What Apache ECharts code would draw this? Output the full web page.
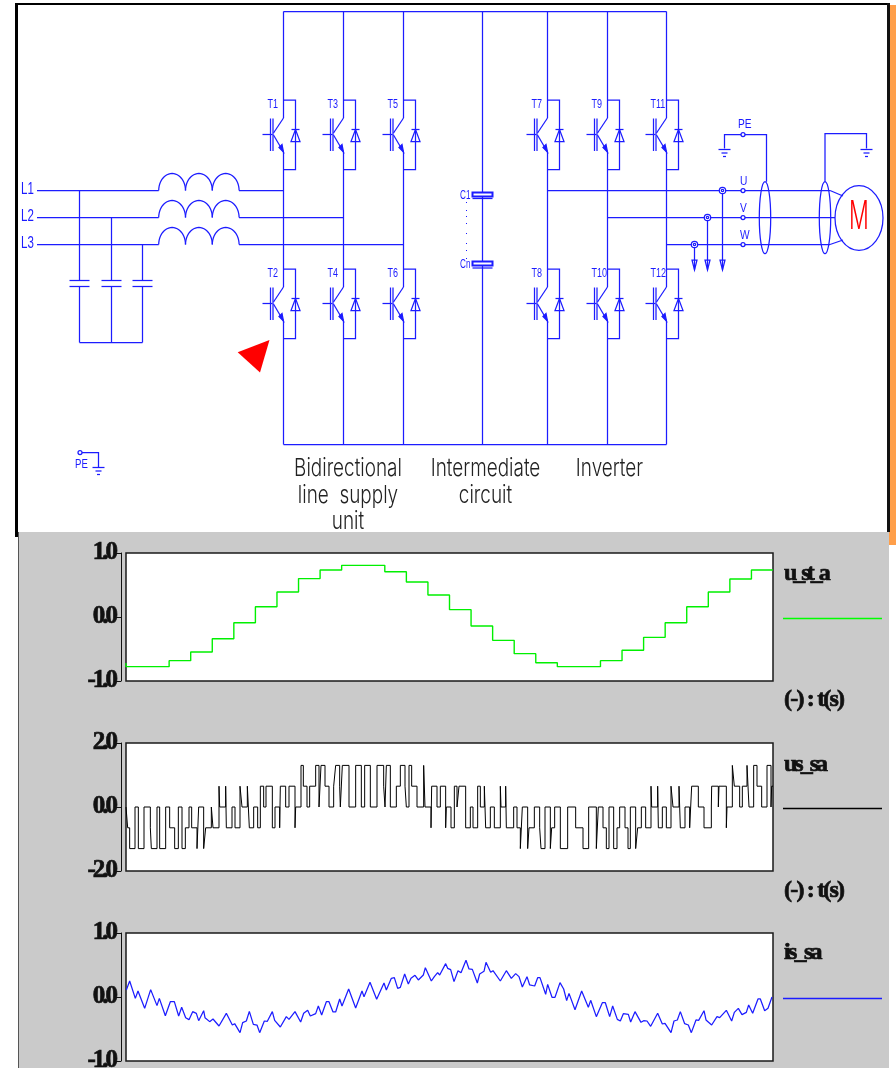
<!DOCTYPE html>
<html>
<head>
<meta charset="utf-8">
<style>html,body{margin:0;padding:0;background:#fff}#c{width:896px;height:1068px}</style>
<script src="https://cdn.jsdelivr.net/npm/echarts@6/dist/echarts.min.js"></script>
</head>
<body>
<div id="c"></div>
<script>
// ---------- chart data ----------
const yTicks1 = ['-1.0', '0.0', '1.0'];
const yTicks2 = ['-2.0', '0.0', '2.0'];
const yTicks3 = ['-1.0', '0.0', '1.0'];
const seriesNames = ['u_st_a', 'us_sa', 'is_sa'];
const xAxisNote = '(-) : t(s)';

const ustTimes = [0, 0, 2, 3, 4, 5, 6, 7, 8, 9, 10, 12, 13, 14, 15, 16, 17, 18, 19, 20, 22, 23, 24, 25, 26, 27, 28, 29, 30];
const ustValues = [-0.72, -0.776, -0.682, -0.547, -0.339, -0.089, 0.161, 0.39, 0.6, 0.734, 0.807, 0.708, 0.547, 0.344, 0.115, -0.141, -0.365, -0.573, -0.714, -0.776, -0.682, -0.52, -0.318, -0.089, 0.161, 0.39, 0.594, 0.734, 0.734];

const ussTimes = [
  0,5,11,27,37,54,73,76,93,101,
  119,131,146,157,168,178,189,197,213,218,
  233,239,256,261,279,281,299,301,318,327,
  342,348,364,370,383,395,403,413,420,439,
  447,461,463,479,489,507,509,525,532,543,
  551,569,579,585,597,609,623,629,641,643,
  649,669,689,706,716,733,753,773,777,781,
  793,811,823,837,841,849,857,873,893,897,
  915,917,933,943,959,961,975,985,993,999,
  1019,1033,1041,1055,1063,1075,1079,1093,1105,1123,
  1125,1139,1141,1163,1173,1183,1189,1205,1209,1225,
  1241,1245,1257,1273,1277,1286,1303,1325,1349,1371,
  1388,1411,1417,1431,1441,1449,1463,1473,1481,1497,
  1506,1513,1529,1535,1546,1559,1575,1577,1595,1597,
  1609,1621,1635,1641,1659,1663,1677,1691,1697,1717,
  1734,1756,1757,1777,1779,1801,1803,1819,1825,1841,
  1849,1863,1869,1883,1893,1907,1923,1935,1937,1941
];
const ussValues = [
  0,-.65,-1.3,0,-1.3,0,-.65,-1.3,0,-1.3,
  0,-.65,-1.3,0,-1.3,-.65,0,-.65,-1.3,0,
  -1.3,-.65,0,-.65,.65,0,.65,-.65,0,-.65,
  .65,0,.65,-.65,0,-.65,.65,0,.65,-.65,
  0,-.65,.65,0,.65,-.65,0,1.3,.65,0,
  .65,1.3,0,1.3,.65,0,.65,1.3,.65,0,
  1.3,0,1.3,0,1.3,0,1.3,.65,0,1.3,
  0,.65,1.3,.65,0,1.3,.65,0,1.3,0,
  -.65,.65,0,.65,-.65,0,-.65,.65,0,.65,
  -.65,0,-.65,.65,0,.65,-.65,0,-.65,.65,
  0,.65,-.65,0,-.65,-1.3,0,-1.3,-.65,0,
  -.65,-1.3,0,-1.3,-.65,0,-1.3,0,-.65,-1.3,
  0,-1.3,0,-.65,-1.3,0,-1.3,-.65,0,-.65,
  -1.3,0,-1.3,-.65,0,-.65,.65,0,.65,-.65,
  0,-.65,.65,0,.65,-.65,0,-.65,.65,0,
  -.65,0,.65,0,.65,-.65,0,1.3,.65,0,
  .65,1.3,0,1.3,.65,0,1.3,0,.65,.65
];

const issTimes = [
  1,11,28,36,56,74,93,100,118,133,145,158,167,179,189,200,211,218,233,237,
  243,251,261,279,301,319,326,342,350,361,370,382,393,401,415,424,439,446,463,481,
  489,507,524,533,545,553,569,577,587,601,609,621,629,641,648,668,689,708,714,732,
  752,774,781,796,805,815,823,836,847,855,867,877,892,898,916,925,935,941,959,965,
  974,984,996,1005,1020,1029,1039,1054,1061,1074,1080,1094,1101,1123,1141,1156,1169,1179,1189,1203,
  1211,1226,1235,1242,1259,1265,1278,1287,1302,1313,1322,1329,1347,1367,1387,1394,1411,1429,1438,1451,
  1460,1474,1483,1492,1507,1514,1527,1545,1553,1563,1574,1595,1609,1617,1635,1644,1654,1663,1676,1687,
  1696,1710,1718,1734,1740,1757,1773,1781,1801,1817,1825,1837,1848,1861,1868,1880,1896,1903,1916,1926,1938
];
const issValues = [
  .109,.25,-.021,.094,-.177,.115,-.135,-.021,-.292,-.073,-.073,-.297,-.161,-.323,-.354,-.229,-.255,-.37,-.214,-.323,
  -.333,-.385,-.344,-.453,-.255,-.438,-.417,-.557,-.401,-.375,-.224,-.427,-.438,-.557,-.375,-.38,-.229,-.365,-.469,-.307,
  -.349,-.229,-.391,-.255,-.208,-.297,-.26,-.141,-.281,-.073,-.073,-.234,-.234,-.031,-.141,.125,-.172,.094,.005,.229,
  -.036,.219,.109,.292,.302,.135,.151,.359,.203,.292,.339,.266,.344,.458,.25,.318,.38,.344,.521,.448,
  .427,.24,.411,.38,.573,.438,.432,.219,.359,.401,.542,.385,.411,.25,.411,.292,.365,.318,.156,.318,
  .188,.172,.302,.302,.042,.198,-.005,-.005,.224,.125,-.057,.057,-.198,.094,-.161,-.052,-.307,-.089,-.089,-.307,
  -.141,-.349,-.375,-.26,-.271,-.391,-.229,-.396,-.37,-.375,-.458,-.255,-.422,-.411,-.557,-.375,-.359,-.229,-.417,-.438,
  -.557,-.359,-.365,-.214,-.359,-.438,-.307,-.323,-.208,-.375,-.24,-.177,-.276,-.24,-.125,-.255,-.031,-.031,-.214,-.177,0
];

// Blocks named in the schematic
const blockLabels = [
  {lines: ['Bidirectional', 'line  supply', 'unit'], cx: 348},
  {lines: ['Intermediate', 'circuit'], cx: 485.5},
  {lines: ['Inverter'], cx: 609.5}
];

// ---------- tight bold serif setting, as in the reference's squeezed type ----------
const spacingFor = t => t === 'u_st_a' ? -4 : t === 'is_sa' ? -2.7 : t === '(-) : t(s)' ? -1.8 : -3;
['fillText', 'strokeText'].forEach(fn => {
  const raw = CanvasRenderingContext2D.prototype[fn];
  CanvasRenderingContext2D.prototype[fn] = function (t, x, y) {
    if (String(this.font).indexOf('Liberation Serif') >= 0) {
      this.letterSpacing = spacingFor(t) + 'px';
      raw.call(this, t, x, y);
      this.letterSpacing = '0px';
    } else {
      raw.call(this, t, x, y);
    }
  };
});

// ---------- drawing helpers for the schematic ----------
const BLUE = '#1c1cff', GREY = '#cacaca', SERIF = '"Liberation Serif", serif', LW = 1.25;
const g = [];
const line = (pts, color, w) => g.push({type: 'polyline', silent: true, shape: {points: pts}, style: {stroke: color || BLUE, lineWidth: w || LW, fill: null}});
const poly = (pts, fill, stroke) => g.push({type: 'polygon', silent: true, shape: {points: pts}, style: {fill: fill || 'none', stroke: stroke || BLUE, lineWidth: LW}});
const rect = (x, y, w, h, fill, z) => g.push({type: 'rect', silent: true, z: z === undefined ? -10 : z, shape: {x, y, width: w, height: h}, style: {fill}});
const ellipse = (cx, cy, rx, ry, fill) => g.push({type: 'ellipse', silent: true, shape: {cx, cy, rx, ry}, style: {fill: fill || 'none', stroke: BLUE, lineWidth: LW}});
const txt = (s, x, y, o) => {
  o = o || {};
  g.push({type: 'text', silent: true, x, y, scaleX: o.sx || 1, scaleY: o.sy || 1, z: o.z || 5,
    style: {text: s, fill: o.color || BLUE, font: o.font || '12px "Liberation Sans"', textAlign: o.align || 'left', textVerticalAlign: 'middle',
      stroke: o.stroke || null, lineWidth: o.stroke ? 0.7 : 0}});
};

// page furniture
rect(15, 3, 875, 2, '#000');
rect(15, 3, 3, 534, '#000');
rect(887, 3, 3, 534, '#111');
rect(890, 5, 6, 540, '#ff9f4a');
rect(888, 532, 8, 13, '#ff9f4a');
rect(18, 532, 871, 536, GREY);
rect(18, 532, 1, 536, '#555');

// rails
const cols = [283.5, 343.5, 403.5, 547.5, 607.5, 666.5];
line([[283.5, 11.5], [666.5, 11.5]]);
line([[283.5, 444.5], [666.5, 444.5]]);
line([[482.5, 11.5], [482.5, 193]]);
line([[482.5, 197], [482.5, 262]]);
line([[482.5, 266], [482.5, 444.5]]);

// IGBT half bridges
const igbt = (cx, y0, name) => {
  line([[cx, y0], [cx + 12, y0], [cx + 12, y0 + 69.5], [cx, y0 + 69.5]]);
  line([[cx - 13, y0 + 18.5], [cx - 13, y0 + 51]]);
  line([[cx - 10.5, y0 + 18.5], [cx - 10.5, y0 + 51]]);
  line([[cx - 21, y0 + 34.5], [cx - 11, y0 + 34.5]]);
  line([[cx - 10, y0 + 33], [cx, y0 + 18]]);
  line([[cx - 10, y0 + 35], [cx, y0 + 52]]);
  poly([[cx, y0 + 52], [cx - 4.5, y0 + 47.5], [cx - 1.5, y0 + 44.5]], BLUE);
  poly([[cx + 12, y0 + 29.5], [cx + 7.5, y0 + 41.5], [cx + 16.5, y0 + 41.5]]);
  line([[cx + 8, y0 + 29.5], [cx + 16, y0 + 29.5]]);
  txt(name, cx - 16, y0 + 5, {sx: 0.75});
};
cols.forEach((cx, i) => {
  line([[cx, 11.5], [cx, 118]]);
  line([[cx, 152], [cx, 287]]);
  line([[cx, 321], [cx, 444.5]]);
  igbt(cx, 100, 'T' + (2 * i + 1));
  igbt(cx, 269, 'T' + (2 * i + 2));
});

// line side
const lineY = [190.5, 217.5, 244.5];
const lineEnd = [283.5, 343.5, 403.5];
const humps = (x0, y) => {
  for (let h = 0; h < 3; h++) {
    const pts = [], rx = 13.4, ry = 17, cx = x0 + rx + 2 * rx * h;
    for (let a = 0; a <= 24; a++) {
      const t = Math.PI * (1 - a / 24);
      pts.push([cx + rx * Math.cos(t), y - ry * Math.sin(t)]);
    }
    line(pts);
  }
};
lineY.forEach((y, i) => {
  txt('L' + (i + 1), 21, y - 1, {font: '16px "Liberation Sans"', sx: 0.72});
  line([[37, y], [158.7, y]]);
  humps(158.7, y);
  line([[239, y], [lineEnd[i], y]]);
});
// line filter
[79.5, 111.5, 142.5].forEach((x, i) => {
  line([[x, lineY[i]], [x, 280]]);
  line([[x - 10, 280.5], [x + 10, 280.5]]);
  line([[x - 10, 286.5], [x + 10, 286.5]]);
  line([[x, 286], [x, 342.5]]);
});
line([[79.5, 342.5], [142.5, 342.5]]);
// red marker
g.push({type: 'polygon', silent: true, shape: {points: [[237.7, 352.3], [269.5, 340], [260, 372.5]]}, style: {fill: '#ff0000'}});

// DC link capacitors
[[192.5, 198.5, 'C1'], [261.5, 268, 'Cn']].forEach(c => {
  g.push({type: 'rect', silent: true, shape: {x: 472.5, y: c[0], width: 20, height: 4}, style: {fill: '#fff', stroke: BLUE, lineWidth: 2}});
  line([[472.5, c[1]], [492.5, c[1]]]);
  txt(c[2], 460, c[0] + 3, {sx: 0.68});
});
[202, 210, 216, 223, 233, 243, 250, 258].forEach(y => rect(466, y, 1, 1, '#1c1cff', 5));

// motor side
const outY = [190.5, 217.5, 244.5];
const outStart = [547.5, 607.5, 666.5];
const sensorX = [722.5, 707.5, 694.5];
const phase = ['U', 'V', 'W'];
outY.forEach((y, i) => {
  line([[outStart[i], y], [i === 1 ? 835 : 830, y]]);
  ellipse(sensorX[i], y, 3.2, 3.2, '#fff');
  ellipse(sensorX[i], y, 1.2, 1.2, '#fff');
  line([[sensorX[i], y + 3], [sensorX[i], 269.5]]);
  poly([[sensorX[i] - 2.5, 260], [sensorX[i] + 2.5, 260], [sensorX[i], 270]]);
  ellipse(743, y, 2, 2, '#fff');
  txt(phase[i], 740, y - 9, {sx: 0.85});
});
line([[830, 190.5], [843, 196]]);
line([[830, 244.5], [843, 240]]);
ellipse(765, 217.7, 5.7, 36);
ellipse(825, 217.7, 5.7, 36);
ellipse(859, 218, 24, 32.3);
txt('M', 859, 217, {color: '#ff0000', font: '300 40px "Inter", "Liberation Sans"', align: 'center', sx: 0.55});
const ground = (x, y, scale) => {
  line([[x - 6 * scale, y], [x + 6 * scale, y]]);
  line([[x - 3 * scale, y + 3.5], [x + 3 * scale, y + 3.5]]);
  line([[x - 1.5 * scale, y + 7], [x + 1.5 * scale, y + 7]]);
};
line([[724.5, 148.5], [724.5, 134.5], [766.5, 134.5], [766.5, 181.7]]);
ellipse(743, 134.5, 2, 2, '#fff');
ground(724.5, 149.5, 1);
txt('PE', 738, 125, {sx: 0.85});
line([[825, 181.7], [825, 133.5], [866.5, 133.5], [866.5, 148.5]]);
ground(866.5, 149.5, 1);
// bottom-left PE
line([[82, 452.5], [98.5, 452.5], [98.5, 467]]);
ellipse(80, 452.5, 2, 2, '#fff');
ground(98.5, 467.5, 1);
txt('PE', 75, 465, {sx: 0.8});

// block names
blockLabels.forEach(b => b.lines.forEach((s, i) => {
  txt(s, b.cx, 469 + 26.5 * i, {color: '#222', font: '300 22px "Inter", "Liberation Sans"', align: 'center', sx: 0.86, sy: 1.1});
}));

// side notes and legend samples
const F = 'bold 24px ' + SERIF;
const side = (s, y) => txt(s, 784, y, {color: '#111', font: F, stroke: '#111'});
side(seriesNames[0], 574); side(xAxisNote, 700);
side(seriesNames[1], 765); side(xAxisNote, 891);
side(seriesNames[2], 953);
line([[783, 618.5], [882, 618.5]], '#00ff00', 1.6);
line([[783, 808.5], [882, 808.5]], '#000', 1.4);
line([[783, 998.5], [882, 998.5]], '#1c1cff', 1.6);

// ---------- chart options ----------
const grids = [553, 743, 933].map(top => ({left: 126, width: 647, top, height: 128, outerBoundsMode: 'none', containLabel: false, show: true, backgroundColor: '#fff', borderColor: '#1a1a1a', borderWidth: 1.5}));
const xAxes = [30, 1941, 1941].map((max, i) => ({type: 'value', gridIndex: i, min: 0, max, show: false}));
const yAxes = [[yTicks1, 1], [yTicks2, 2], [yTicks3, 1]].map((a, i) => ({
  type: 'value', gridIndex: i, min: -a[1], max: a[1], interval: a[1], position: 'left', offset: 5,
  axisLine: {show: true, onZero: false, lineStyle: {color: '#111', width: 1}},
  axisTick: {show: true, length: 6, lineStyle: {color: '#111', width: 1}},
  splitLine: {show: false},
  axisLabel: {margin: 6, padding: [4, 0, 0, 0], color: '#111', fontFamily: 'Liberation Serif', fontWeight: 'bold', fontSize: 25,
    textBorderColor: '#111', textBorderWidth: 0.7,
    formatter: v => a[0][[-a[1], 0, a[1]].indexOf(v)]}
}));
const mk = (i, xs, ys, color, step, w) => ({
  name: seriesNames[i], type: 'line', xAxisIndex: i, yAxisIndex: i, showSymbol: false, symbol: 'none', step,
  data: xs.map((x, k) => [x, ys[k]]), lineStyle: {color, width: w}, itemStyle: {color}, animation: false, z: 3
});

const chart = echarts.init(document.getElementById('c'), null, {width: 896, height: 1068, renderer: 'canvas'});
chart.setOption({
  animation: false,
  backgroundColor: '#fff',
  grid: grids, xAxis: xAxes, yAxis: yAxes,
  series: [
    mk(0, ustTimes, ustValues, '#00f000', 'end', 1.4),
    mk(1, ussTimes, ussValues, '#000', 'end', 1),
    mk(2, issTimes, issValues, '#1c1cff', false, 1.25)
  ],
  graphic: {elements: g}
});
</script>
</body>
</html>
